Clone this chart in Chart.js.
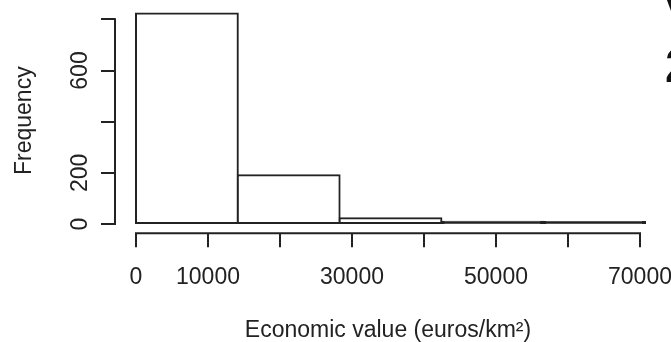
<!DOCTYPE html>
<html>
<head>
<meta charset="utf-8">
<script src="https://cdn.jsdelivr.net/npm/chart.js@4"></script>
<style>
  html, body { margin: 0; padding: 0; background: #fff; overflow: hidden; }
  #wrap { width: 671px; height: 342px; position: relative; }
</style>
</head>
<body>
<div id="wrap"><canvas id="hist" width="671" height="342"></canvas></div>
<script>
// Histogram of economic value per km²: bin edges and counts
const binEdges = [0, 14140, 28280, 42420, 56560, 70700];
const frequencies = [823, 191, 23, 9, 8];

// Axis ticks and the labels printed beside them
const xTickValues = [0, 10000, 20000, 30000, 40000, 50000, 60000, 70000];
const xTickLabels = ['0', '10000', '', '30000', '', '50000', '', '70000'];
const yTickValues = [0, 200, 400, 600, 800];
const yTickLabels = ['0', '200', '', '600', ''];

const xTitle = 'Economic value (euros/km²)';
const yTitle = 'Frequency';

const ink = '#222222';
const family = '"Liberation Sans", Arial, Helvetica, sans-serif';

// bar centres and counts as {x, y} points on a linear x scale
const binPoints = frequencies.map((f, i) => ({ x: (binEdges[i] + binEdges[i + 1]) / 2, y: f }));

// a bar thinner than its own outline reads as a solid stroke
function barFill(c) {
  const y = c.chart.scales.y;
  if (!y || !c.raw) return '#ffffff';
  const h = y.getPixelForValue(0) - y.getPixelForValue(c.raw.y);
  return h < 4 ? ink : '#ffffff';
}

// axis lines, rotated y labels, titles
const axisDecor = {
  id: 'axisDecor',
  afterDraw(chart) {
    const { ctx, chartArea, scales: { x, y } } = chart;
    ctx.save();
    ctx.strokeStyle = ink;
    ctx.lineWidth = 2;
    ctx.lineCap = 'butt';
    ctx.beginPath();
    const xb = chartArea.bottom;
    ctx.moveTo(x.getPixelForValue(xTickValues[0]) - 1, xb);
    ctx.lineTo(x.getPixelForValue(xTickValues[xTickValues.length - 1]) + 1, xb);
    const yl = chartArea.left;
    ctx.moveTo(yl, y.getPixelForValue(yTickValues[0]) + 1);
    ctx.lineTo(yl, y.getPixelForValue(yTickValues[yTickValues.length - 1]) - 1);
    ctx.stroke();

    ctx.fillStyle = ink;
    ctx.textAlign = 'center';
    ctx.textBaseline = 'middle';

    // y tick labels, reading bottom to top
    ctx.font = '23px ' + family;
    yTickValues.forEach((v, i) => {
      if (!yTickLabels[i]) return;
      ctx.save();
      ctx.translate(80, y.getPixelForValue(v));
      ctx.rotate(-Math.PI / 2);
      ctx.fillText(yTickLabels[i], 0, 1);
      ctx.restore();
    });

    ctx.font = '23px ' + family;
    ctx.save();
    ctx.translate(25, (y.getPixelForValue(0) + y.getPixelForValue(800)) / 2 - 1);
    ctx.rotate(-Math.PI / 2);
    ctx.fillText(yTitle, 0, 0);
    ctx.restore();

    const xMid = (x.getPixelForValue(xTickValues[0]) + x.getPixelForValue(xTickValues[xTickValues.length - 1])) / 2;
    ctx.fillText(xTitle, xMid, 331);

    // edge of the neighbouring panel's heading
    ctx.fillStyle = '#111';
    ctx.textAlign = 'left';
    ctx.textBaseline = 'alphabetic';
    ctx.font = 'bold 48px ' + family;
    ctx.fillText('V', 664, 26);
    ctx.fillText('2', 665, 82);
    ctx.restore();
  }
};

new Chart(document.getElementById('hist'), {
  type: 'bar',
  data: {
    datasets: [{
      data: binPoints,
      backgroundColor: barFill,
      borderColor: ink,
      borderWidth: 2,
      borderSkipped: false,
      inflateAmount: 1,
      barThickness: 'flex',
      barPercentage: 1,
      categoryPercentage: 1
    }]
  },
  options: {
    responsive: false,
    animation: false,
    devicePixelRatio: 1,
    layout: { padding: { left: 0, top: 6, right: 23, bottom: 0 } },
    plugins: { legend: { display: false }, tooltip: { enabled: false } },
    scales: {
      x: {
        type: 'linear',
        min: -2917,
        max: 71111,
        offset: false,
        afterBuildTicks: (s) => { s.ticks = xTickValues.map(v => ({ value: v })); },
        afterFit: (s) => { s.height = 342 - 233.3; s.paddingLeft = 0; s.paddingRight = 0; },
        grid: { offset: false, drawOnChartArea: false, drawTicks: true, tickLength: 14, lineWidth: 2, color: ink },
        border: { display: false },
        ticks: {
          autoSkip: false,
          maxRotation: 0,
          minRotation: 0,
          padding: 17,
          color: ink,
          font: { family: family, size: 23 },
          callback: (v, i) => xTickLabels[i]
        }
      },
      y: {
        type: 'linear',
        min: -36,
        max: 852,
        afterBuildTicks: (s) => { s.ticks = yTickValues.map(v => ({ value: v })); },
        afterFit: (s) => { s.width = 115; s.paddingTop = 0; s.paddingBottom = 0; },
        grid: { drawOnChartArea: false, drawTicks: true, tickLength: 14, lineWidth: 2, color: ink },
        border: { display: false },
        ticks: { display: false }
      }
    }
  },
  plugins: [axisDecor]
});
</script>
</body>
</html>
